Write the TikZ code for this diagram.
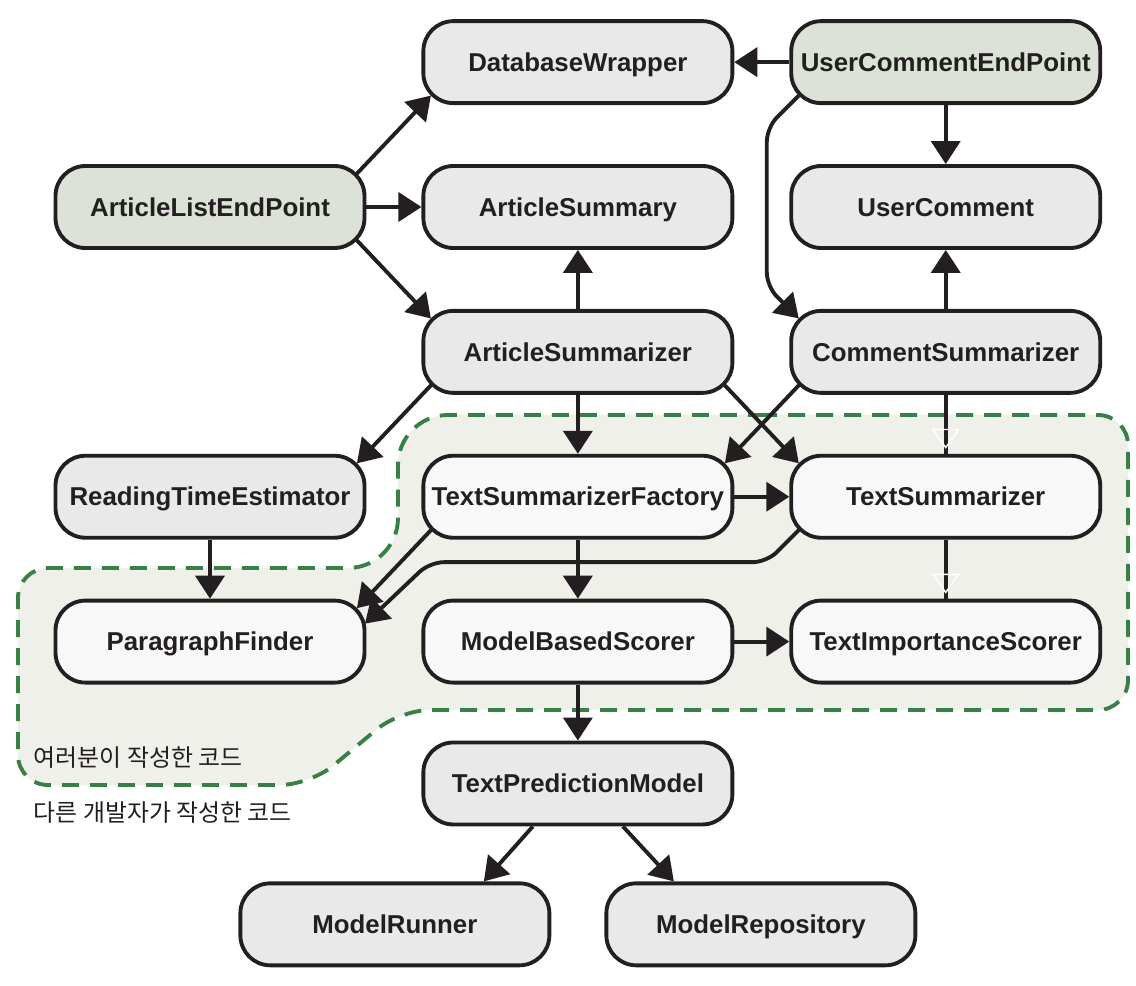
\documentclass[tikz,border=0pt]{standalone}
\usepackage{fontspec}
\setmainfont{Liberation Sans}
\newfontfamily\kofont{Noto Sans CJK KR}
\usepackage{xcolor}
\usepackage{tikz}
\usetikzlibrary{arrows.meta,
                positioning,
                calc,
                decorations.markings}
\definecolor{ink}{HTML}{231F20}
\definecolor{boxgray}{HTML}{E9E9E9}
\definecolor{boxgreen}{HTML}{DCE2D8}
\definecolor{boxlight}{HTML}{F8F8F8}
\definecolor{zonefill}{HTML}{EFF0EA}
\definecolor{zoneline}{HTML}{3A7F47}
\tikzstyle{box} = [draw=ink, line width=2.2pt, rounded corners=0.6cm, fill=boxgray,
                   minimum width=6.18cm, minimum height=1.64cm, inner xsep=0pt,
                   text height=10.5pt, text depth=0pt,
                   text=ink, font=\fontsize{14.7}{17}\selectfont\bfseries]
\tikzstyle{endpoint} = [box, fill=boxgreen]
\tikzstyle{mine} = [box, fill=boxlight]
\tikzstyle{arrow} = [draw=ink, line width=2.2pt, -{Triangle[length=0.46cm,width=0.58cm]}]
\tikzstyle{hollow} = [draw=ink, line width=2.2pt,
                      postaction={decorate,decoration={markings,
                        mark=at position -0.1cm with {\arrow[white,line width=0.8pt]{Triangle[open,length=0.4cm,width=0.56cm]}}}}]
\tikzstyle{note} = [anchor=west, inner sep=0pt, text=ink, font=\kofont\fontsize{13.6}{16}\selectfont]

\begin{document}
\begin{tikzpicture}[node distance=1.18cm and 1.1cm]
    \useasboundingbox (-4.2,4.14) rectangle (18.52,-15.58);

    % the part written by you
    \filldraw[fill=zonefill, draw=zoneline, line width=2.2pt, dash pattern=on 0.34cm off 0.22cm, rounded corners=0.6cm]
      (10,-4.16) -- (18.36,-4.16) -- (18.36,-10.06) -- (3.8,-10.06) -- (2.0,-11.56) -- (-3.84,-11.56)
      -- (-3.84,-7.22) [rounded corners=1cm] -- (3.76,-7.22) -- (3.76,-4.16) -- cycle;

    \node[endpoint] (alep) at (0,0) {ArticleListEndPoint};
    \node[box] (asum)[right=of alep] {ArticleSummary};
    \node[box] (uc)[right=of asum] {UserComment};
    \node[box] (dbw)[above=of asum] {DatabaseWrapper};
    \node[endpoint] (ucep)[above=of uc] {UserCommentEndPoint};
    \node[box] (asz)[below=of asum] {ArticleSummarizer};
    \node[box] (csz)[below=of uc] {CommentSummarizer};
    \node[mine] (tsf)[below=of asz] {TextSummarizerFactory};
    \node[mine] (ts)[below=of csz] {TextSummarizer};
    \node[box] (rte)[left=of tsf] {ReadingTimeEstimator};
    \node[mine] (pf)[below=of rte] {ParagraphFinder};
    \node[mine] (mbs)[below=of tsf] {ModelBasedScorer};
    \node[mine] (tis)[below=of ts] {TextImportanceScorer};
    \node[box] (tpm)[below=1.12cm of mbs] {TextPredictionModel};
    \node[box] (mr)[below=1.1cm of tpm, xshift=-3.66cm] {ModelRunner};
    \node[box] (mrep)[below=1.1cm of tpm, xshift=3.66cm] {ModelRepository};

    \node[note] (ours) at ($(pf.south west)+(-0.4,-1.46)$) {여러분이 작성한 코드};
    \node[note] (theirs) at ($(pf.south west)+(-0.4,-2.56)$) {다른 개발자가 작성한 코드};

    \draw[arrow] (ucep) -- (dbw);
    \draw[arrow] (ucep) -- (uc);
    \draw[arrow, rounded corners=8pt] ($(ucep.south west)+(0.19,0.19)$) -- ++(-0.64,-0.64) -- ++(0,-3.18)
      -- ($(csz.north west)+(0.19,-0.19)$);
    \draw[arrow] ($(alep.north east)+(-0.19,-0.19)$) -- ($(dbw.south west)+(0.19,0.19)$);
    \draw[arrow] (alep) -- (asum);
    \draw[arrow] ($(alep.south east)+(-0.19,0.19)$) -- ($(asz.north west)+(0.19,-0.19)$);
    \draw[arrow] (asz) -- (asum);
    \draw[arrow] ($(asz.south west)+(0.19,0.19)$) -- ($(rte.north east)+(-0.19,-0.19)$);
    \draw[arrow] (asz) -- (tsf);
    \draw[arrow] ($(asz.south east)+(-0.19,0.19)$) -- ($(ts.north west)+(0.19,-0.19)$);
    \draw[arrow] (csz) -- (uc);
    \draw[arrow] ($(csz.south west)+(0.19,0.19)$) -- ($(tsf.north east)+(-0.19,-0.19)$);
    \draw[hollow] (csz) -- (ts);
    \draw[hollow] (ts) -- (tis);
    \draw[arrow] (tsf) -- (ts);
    \draw[arrow] (tsf) -- (mbs);
    \draw[arrow] ($(tsf.south west)+(0.19,0.19)$) -- ($(pf.north east)+(-0.19,-0.19)$);
    \draw[arrow, rounded corners=8pt] ($(ts.south west)+(0.19,0.19)$) -- ++(-0.64,-0.64) -- ++(-6.74,0)
      -- ($(pf.north east)+(-0.03,-0.5)$);
    \draw[arrow] (rte) -- (pf);
    \draw[arrow] (mbs) -- (tis);
    \draw[arrow] (mbs) -- (tpm);
    \draw[arrow] ($(tpm.south)+(-0.9,0)$) -- ($(mr.north)+(1.78,0)$);
    \draw[arrow] ($(tpm.south)+(0.9,0)$) -- ($(mrep.north)+(-1.74,0)$);
\end{tikzpicture}
\end{document}
